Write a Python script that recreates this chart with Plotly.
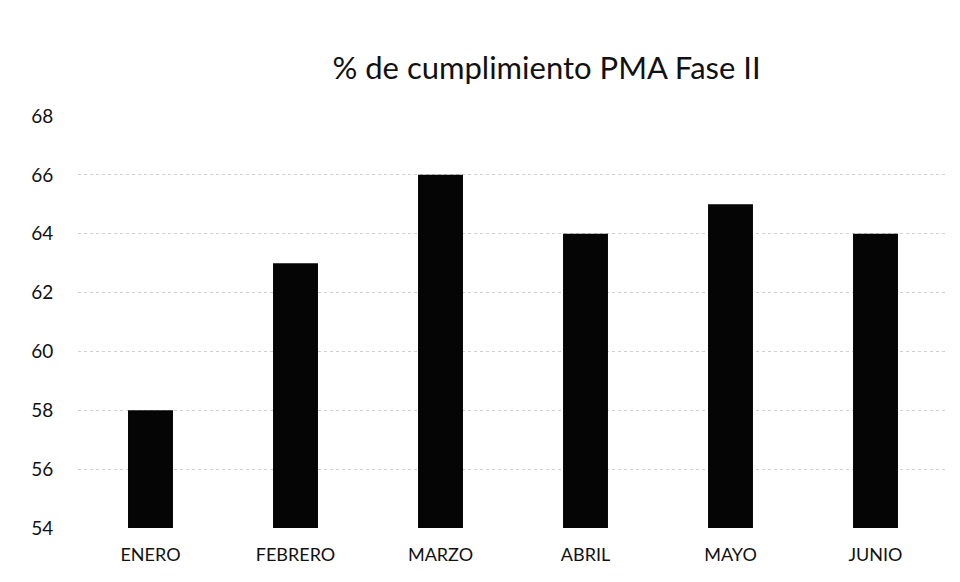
import plotly.graph_objects as go

months = ["ENERO", "FEBRERO", "MARZO", "ABRIL", "MAYO", "JUNIO"]
values = [58, 63, 66, 64, 65, 64]
y_ticks = [54, 56, 58, 60, 62, 64, 66, 68]

fig = go.Figure(go.Bar(
    x=months, y=values,
    marker=dict(color="#050505", line=dict(width=0)),
))

fig.update_layout(
    width=960, height=582,
    paper_bgcolor="white", plot_bgcolor="white",
    margin=dict(l=70, r=20, t=108, b=62),
    bargap=0.69,
    showlegend=False,
    font=dict(family="Lato, 'Open Sans', sans-serif", color="#111111"),
    title=dict(text="% de cumplimiento PMA Fase II", x=0.561, xanchor="center",
               y=1 - 60/582, yanchor="middle", xref="container", yref="container",
               font=dict(size=31, color="#111111")),
    xaxis=dict(showgrid=False, showline=False, ticks="outside", ticklen=10,
               tickcolor="white", tickfont=dict(size=18)),
    yaxis=dict(range=[54, 68], tickvals=y_ticks, showgrid=True,
               gridcolor="#d0d0d0", griddash="dot", gridwidth=1,
               zeroline=False, showline=False, ticks="outside", ticklen=20,
               tickcolor="white", tickfont=dict(size=19)),
)

fig.write_html("out.html")
